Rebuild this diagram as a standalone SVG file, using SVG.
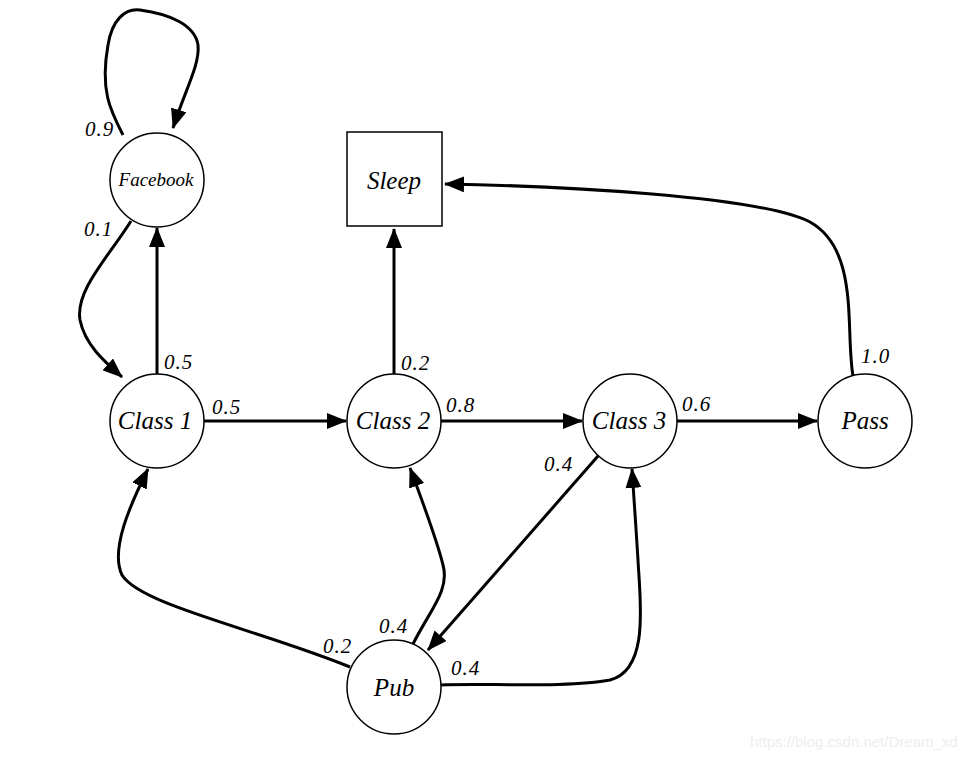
<svg xmlns="http://www.w3.org/2000/svg" width="976" height="760" viewBox="0 0 976 760">
<style>
.n{fill:#fff;stroke:#000;stroke-width:1.5}
.t{font-style:italic;font-size:25px;text-anchor:middle;fill:#000}
.l{font-style:italic;font-size:21px;letter-spacing:1px;fill:#000}
.e{fill:none;stroke:#000;stroke-width:3;marker-end:url(#ah)}
</style>
<defs>
<marker id="ah" markerUnits="userSpaceOnUse" markerWidth="20" markerHeight="16" refX="19" refY="8" orient="auto">
<path d="M0,0 L20,8 L0,16 Z" fill="#000"/>
</marker>
</defs>
<rect width="976" height="760" fill="#fff"/>
<g id="edges">
<path class="e" d="M123,135 C110,110 100,90 108,45 C112,20 125,8 140,10 C170,14 195,25 198,45 C200,65 185,90 173,128"/>
<path class="e" d="M131,221 C110,255 75,290 80,320 C85,345 105,362 122,377"/>
<path class="e" d="M157,374 L157,228"/>
<path class="e" d="M394,374 L394,229"/>
<path class="e" d="M853,376 C845,330 860,250 810,222 C760,196 560,186 445,184"/>
<path class="e" d="M204,421 L346,421"/>
<path class="e" d="M441,421 L582,421"/>
<path class="e" d="M677,421 L817,421"/>
<path class="e" d="M598,456 L428,650"/>
<path class="e" d="M350,667 C260,630 140,605 122,575 C110,550 130,505 148,469"/>
<path class="e" d="M413,644 C430,610 450,590 443,565 C437,540 422,500 410,468"/>
<path class="e" d="M441,685 C480,683 570,688 610,680 C650,670 640,600 638,560 C636,530 634,495 632,469"/>
</g>
<g font-family="Liberation Serif, Times New Roman, DejaVu Serif, serif">
<g id="facebook"><circle class="n" cx="157" cy="180" r="47"/><text class="t" x="156" y="186" style="font-size:19px">Facebook</text></g>
<g id="sleep"><rect class="n" x="347" y="132" width="95" height="94"/><text class="t" x="394" y="189">Sleep</text></g>
<g id="class1"><circle class="n" cx="157" cy="421" r="47"/><text class="t" x="155" y="429">Class 1</text></g>
<g id="class2"><circle class="n" cx="394" cy="421" r="47"/><text class="t" x="393" y="429">Class 2</text></g>
<g id="class3"><circle class="n" cx="630" cy="421" r="47"/><text class="t" x="629" y="429">Class 3</text></g>
<g id="pass"><circle class="n" cx="865" cy="421" r="47"/><text class="t" x="865" y="429">Pass</text></g>
<g id="pub"><circle class="n" cx="394" cy="687" r="47"/><text class="t" x="394" y="696">Pub</text></g>
<g id="labels">
<text class="l" x="85" y="136">0.9</text>
<text class="l" x="84" y="236">0.1</text>
<text class="l" x="164" y="369">0.5</text>
<text class="l" x="212" y="414">0.5</text>
<text class="l" x="401" y="370">0.2</text>
<text class="l" x="446" y="412">0.8</text>
<text class="l" x="682" y="411">0.6</text>
<text class="l" x="861" y="363">1.0</text>
<text class="l" x="544" y="471">0.4</text>
<text class="l" x="379" y="633">0.4</text>
<text class="l" x="323" y="653">0.2</text>
<text class="l" x="451" y="675">0.4</text>
</g>
</g>
<text x="750" y="747" font-family="Liberation Sans, Arial, sans-serif" font-size="15" fill="#eeeeee">https://blog.csdn.net/Dream_xd</text>
</svg>
